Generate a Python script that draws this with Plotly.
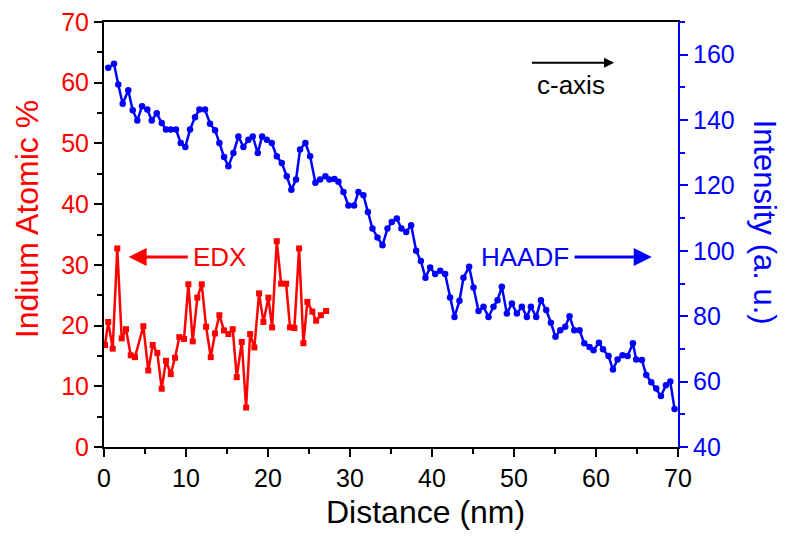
import plotly.graph_objects as go

# ---- data ----
edx_x = [0.12,0.52,1.06,1.62,2.16,2.68,3.26,3.78,4.80,5.40,5.94,6.50,7.04,7.56,8.14,8.66,9.19,9.76,10.29,10.82,
         11.38,11.92,12.45,13.02,13.54,14.07,14.64,15.17,15.70,16.19,16.80,17.33,17.82,18.34,18.91,19.44,20.05,20.50,
         21.07,21.60,22.21,22.69,23.22,23.79,24.32,24.80,25.41,25.87,26.44,27.09]
edx_y = [16.8,20.6,16.2,32.7,17.9,19.4,15.1,14.8,19.9,12.6,16.8,15.5,9.6,14.2,12.0,14.7,18.1,17.8,26.8,17.4,
         24.6,26.8,19.8,14.8,18.7,21.7,19.2,18.6,19.4,11.5,17.3,6.5,18.6,16.4,25.3,20.6,24.6,19.7,33.9,26.9,
         26.9,19.7,19.6,32.7,17.1,23.9,22.3,20.8,21.7,22.4]

haadf_x = [0.52,1.22,1.74,2.28,2.96,3.50,4.06,4.64,5.28,5.82,
           6.43,7.04,7.56,8.14,8.78,9.36,9.92,10.49,11.10,11.63,
           12.32,12.93,13.54,14.07,14.64,15.17,15.78,16.39,17.00,17.61,
           18.14,18.75,19.28,19.85,20.46,21.07,21.68,22.29,22.85,23.42,
           23.91,24.56,25.14,25.78,26.35,27.00,27.49,28.10,28.59,29.20,
           29.81,30.50,31.03,31.64,32.18,32.74,33.35,33.96,34.57,35.10,
           35.71,36.27,36.85,37.46,38.07,38.64,39.20,39.78,40.39,41.00,
           41.60,42.20,42.74,43.35,43.84,44.53,45.06,45.67,46.28,46.89,
           47.50,47.99,48.52,49.13,49.74,50.35,50.96,51.57,52.06,52.71,
           53.28,53.93,54.50,55.06,55.64,56.25,56.77,57.35,57.99,58.57,
           59.21,59.70,60.36,60.85,61.53,62.07,62.63,63.24,63.85,64.50,
           64.90,65.60,66.13,66.74,67.35,67.92,68.53,69.06,69.58]
haadf_y = [156.0,157.2,150.9,145.0,149.1,143.0,139.9,144.2,143.2,139.9,
           142.1,139.1,137.1,137.1,137.1,133.0,131.8,137.1,140.9,143.2,
           143.2,138.9,136.9,133.0,128.7,125.9,129.9,135.0,131.8,134.0,
           135.0,129.9,135.0,134.0,133.0,128.9,126.9,122.8,118.7,121.8,
           131.0,133.0,128.9,120.8,121.8,122.8,121.8,122.0,121.1,118.0,
           113.9,113.9,118.0,117.0,111.9,106.8,104.1,101.7,106.8,108.8,
           109.9,106.8,105.8,107.8,100.0,96.9,91.8,94.9,92.9,93.9,
           92.9,85.7,79.8,84.7,91.8,95.1,88.8,81.6,82.9,79.8,
           82.9,84.9,89.0,80.8,83.9,80.8,82.9,79.8,82.9,79.8,
           84.9,81.9,78.0,73.7,75.7,76.8,80.0,75.7,75.7,71.7,
           70.6,69.6,71.9,69.9,67.8,63.7,66.8,68.1,67.8,71.7,
           66.8,66.6,62.0,59.8,57.9,55.6,58.9,60.0,51.6]

x_ticks = [0, 10, 20, 30, 40, 50, 60, 70]
left_ticks = [0, 10, 20, 30, 40, 50, 60, 70]
right_ticks = [40, 60, 80, 100, 120, 140, 160]

RED = "#FF0000"
BLUE = "#0000FF"
FONT = "Arial, Liberation Sans, sans-serif"

fig = go.Figure()
fig.add_trace(go.Scatter(x=haadf_x, y=haadf_y, yaxis="y2", mode="lines+markers",
                         line=dict(color=BLUE, width=2.5),
                         marker=dict(symbol="circle", size=6.5, color=BLUE),
                         cliponaxis=False, showlegend=False))
fig.add_trace(go.Scatter(x=edx_x, y=edx_y, mode="lines+markers",
                         line=dict(color=RED, width=2.5),
                         marker=dict(symbol="square", size=6, color=RED),
                         cliponaxis=False, showlegend=False))

# page body has an 8px margin, so the figure is sized/offset to compensate
fig.update_layout(
    width=779, height=530,
    margin=dict(l=96, r=109, t=14, b=91, autoexpand=False),
    paper_bgcolor="white", plot_bgcolor="white",
    font=dict(family=FONT, size=24, color="black"),
    xaxis=dict(range=[0, 70], tickvals=x_ticks, showgrid=False, zeroline=False, automargin=False,
               ticklabeloverflow="allow",
               showline=True, linecolor="black", linewidth=2, mirror=True,
               ticks="outside", ticklen=8, tickwidth=2, tickcolor="black",
               minor=dict(ticks="outside", ticklen=5, tickwidth=2, dtick=5, tickcolor="black"),
               tickfont=dict(size=25, color="black")),
    yaxis=dict(range=[0, 70], tickvals=left_ticks, showgrid=False, zeroline=False, automargin=False,
               ticklabeloverflow="allow",
               showline=True, linecolor="black", linewidth=2,
               ticks="outside", ticklen=8, tickwidth=2, tickcolor="black",
               minor=dict(ticks="outside", ticklen=5, tickwidth=2, dtick=5, tickcolor="black"),
               tickfont=dict(size=25, color=RED)),
    yaxis2=dict(range=[40, 170], tickvals=right_ticks, overlaying="y", side="right",
                showgrid=False, zeroline=False, automargin=False,
                ticklabeloverflow="allow",
                showline=True, linecolor=BLUE, linewidth=2,
                ticks="outside", ticklen=8, tickwidth=2, tickcolor=BLUE,
                minor=dict(ticks="outside", ticklen=5, tickwidth=2, dtick=10, tickcolor=BLUE),
                tickfont=dict(size=25, color=BLUE)),
)

# axis titles as annotations for exact placement
fig.add_annotation(text="Distance (nm)", xref="paper", yref="paper", x=0.56, y=-0.152,
                   xanchor="center", yanchor="middle", showarrow=False,
                   font=dict(size=32, color="black", family=FONT))
fig.add_annotation(text="Indium Atomic %", xref="paper", yref="paper", x=-0.135, y=0.535,
                   xanchor="center", yanchor="middle", textangle=-90, showarrow=False,
                   font=dict(size=32, color=RED, family=FONT))
fig.add_annotation(text="Intensity (a. u.)", xref="paper", yref="paper", x=1.15, y=0.53,
                   xanchor="center", yanchor="middle", textangle=90, showarrow=False,
                   font=dict(size=31, color=BLUE, family=FONT))

# EDX label + arrow
fig.add_annotation(text="EDX", x=10.6, y=31.3, xref="x", yref="y", xanchor="left",
                   showarrow=False, font=dict(size=26, color=RED, family=FONT))
fig.add_annotation(x=3.0, y=31.3, ax=10.4, ay=31.3, xref="x", yref="y", axref="x", ayref="y",
                   text="", showarrow=True, arrowhead=2, arrowsize=1.2, arrowwidth=3, arrowcolor=RED)
# HAADF label + arrow
fig.add_annotation(text="HAADF", x=57.0, y=31.3, xref="x", yref="y", xanchor="right",
                   showarrow=False, font=dict(size=26, color=BLUE, family=FONT))
fig.add_annotation(x=66.8, y=31.3, ax=57.2, ay=31.3, xref="x", yref="y", axref="x", ayref="y",
                   text="", showarrow=True, arrowhead=2, arrowsize=1.2, arrowwidth=3, arrowcolor=BLUE)
# c-axis label + arrow
fig.add_annotation(x=62.2, y=63.3, ax=52.0, ay=63.3, xref="x", yref="y", axref="x", ayref="y",
                   text="", showarrow=True, arrowhead=2, arrowsize=1, arrowwidth=2, arrowcolor="black")
fig.add_annotation(text="c-axis", x=57.0, y=59.6, xref="x", yref="y",
                   showarrow=False, font=dict(size=26, color="black", family=FONT))

fig.write_html("out.html")
